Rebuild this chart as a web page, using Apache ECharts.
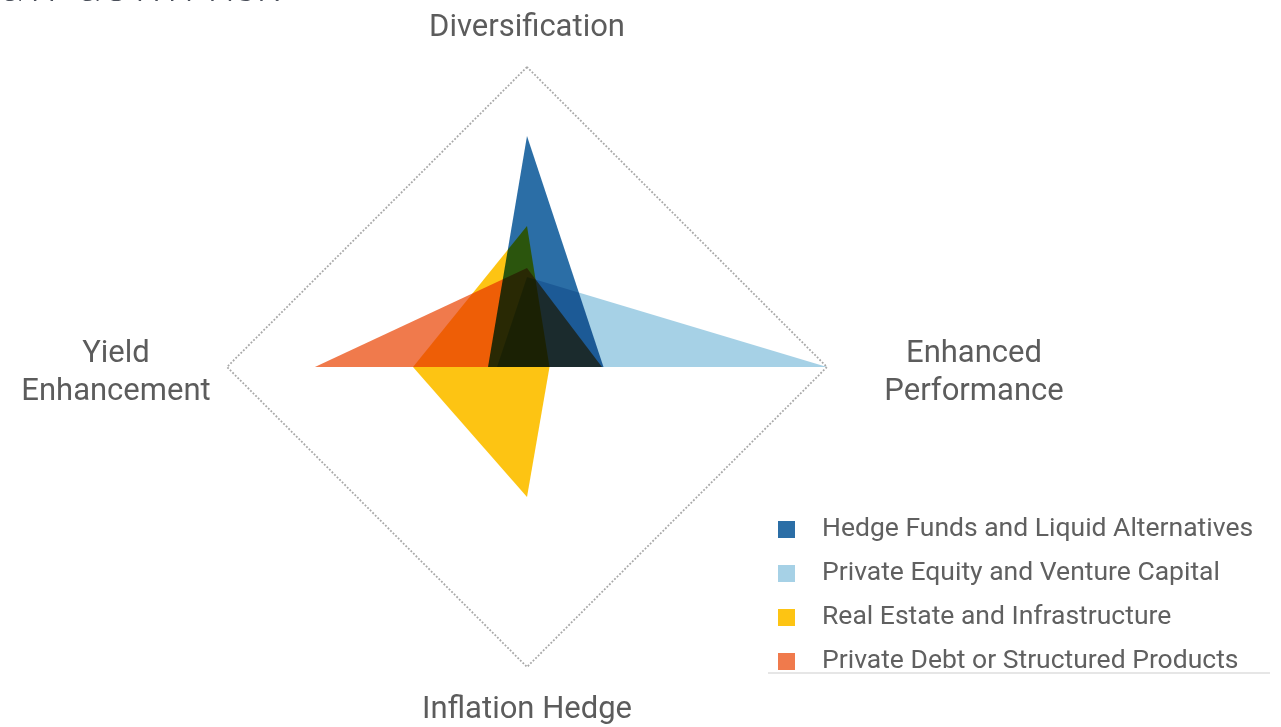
<!DOCTYPE html>
<html>
<head>
<meta charset="utf-8">
<script src="https://cdn.jsdelivr.net/npm/echarts@6/dist/echarts.min.js"></script>
<style>
html,body{margin:0;padding:0;background:#fff;}
#chart{width:1281px;height:727px;}
</style>
</head>
<body>
<div id="chart"></div>
<script>
// Indicator order follows ECharts radar (counter-clockwise from top)
var indicators = ['Diversification', 'Yield\nEnhancement', 'Inflation Hedge', 'Enhanced\nPerformance'];
var seriesNames = ['Hedge Funds and Liquid Alternatives', 'Private Equity and Venture Capital', 'Real Estate and Infrastructure', 'Private Debt or Structured Products'];
var hedgeFunds    = [0.77, 0.13, 0.00, 0.255];
var privateEquity = [0.30, 0.10, 0.00, 1.00];
var realEstate    = [0.47, 0.38, 0.433, 0.075];
var privateDebt   = [0.33, 0.707, 0.00, 0.25];
var colors = ['#2b6ea6', '#a6d1e6', '#fdc413', '#f07a4c'];
var titleText = 'aw down risk';

var values = [hedgeFunds, privateEquity, realEstate, privateDebt];
var chart = echarts.init(document.getElementById('chart'), null, {renderer: 'canvas'});
var labelFont = 'Roboto, "Noto Sans", sans-serif';

var series = values.map(function (v, i) {
  return {
    type: 'radar',
    name: seriesNames[i],
    blendMode: 'multiply',
    symbol: 'none',
    lineStyle: {width: 0, opacity: 0},
    areaStyle: {color: colors[i], opacity: 1},
    itemStyle: {color: colors[i]},
    data: [{value: v, name: seriesNames[i]}]
  };
});

chart.setOption({
  backgroundColor: '#ffffff',
  animation: false,
  color: colors,
  title: {
    text: titleText,
    left: -4,
    top: -44,
    textStyle: {fontFamily: 'Lato, "Open Sans", sans-serif', fontWeight: 300, fontSize: 49, color: '#4a4f5a'}
  },
  graphic: [{
    type: 'line',
    shape: {x1: 768, y1: 673, x2: 1270, y2: 673},
    style: {stroke: '#e6e6e6', lineWidth: 2},
    silent: true
  }],
  legend: {
    orient: 'vertical',
    left: 778,
    top: 514,
    padding: 0,
    itemWidth: 17,
    itemHeight: 17,
    itemGap: 13,
    icon: 'rect',
    selectedMode: false,
    data: seriesNames,
    textStyle: {fontFamily: labelFont, fontSize: 26.5, color: '#606060', lineHeight: 31, padding: [0, 0, 0, 22]}
  },
  radar: {
    center: [527, 367],
    radius: 300,
    shape: 'polygon',
    splitNumber: 1,
    startAngle: 90,
    nameGap: 20,
    indicator: indicators.map(function (n) { return {name: n, max: 1, min: 0}; }),
    axisName: {
      color: '#5c5c5c',
      fontFamily: labelFont,
      fontSize: 31,
      padding: [8, 0, 3, 0],
      formatter: function (name) {
        if (name.indexOf('Yield') === 0) {
          return '{s| }\n' + name.split('\n').map(function (s) { return '{l|' + s + '}'; }).join('\n');
        }
        if (name.indexOf('Enhanced') === 0) {
          return '{s| }\n' + name.split('\n').map(function (s) { return '{r|' + s + '}'; }).join('\n');
        }
        return name;
      },
      rich: {
        s: {lineHeight: 7, fontSize: 6},
        l: {width: 182, align: 'center', lineHeight: 38, fontSize: 31, color: '#5c5c5c', fontFamily: labelFont},
        r: {width: 254, align: 'center', lineHeight: 38, fontSize: 31, color: '#5c5c5c', fontFamily: labelFont}
      }
    },
    axisLine: {show: false},
    axisTick: {show: false},
    axisLabel: {show: false},
    splitArea: {show: false},
    splitLine: {lineStyle: {color: '#a8a8a8', type: 'dotted', width: 1.8}}
  },
  series: series
});
</script>
</body>
</html>
